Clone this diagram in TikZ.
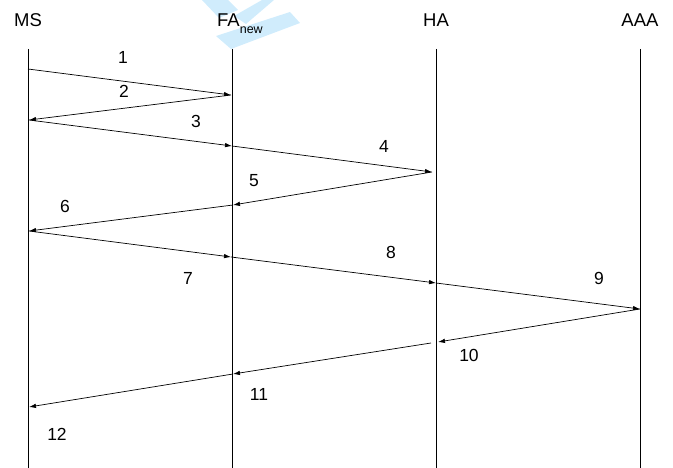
\documentclass[tikz,border=0pt]{standalone}
\usepackage{fontspec}
\setmainfont{Liberation Sans}
\usetikzlibrary{arrows.meta}
\definecolor{wmblue}{RGB}{208,236,252}
\tikzset{
  lbl/.style={font=\fontsize{17.5}{20}\selectfont, inner sep=0pt},
  hdr/.style={font=\fontsize{18.5}{21}\selectfont, inner sep=0pt},
  life/.style={line width=0.8pt},
  msg/.style={->, line width=0.7pt}
}
\begin{document}
\begin{tikzpicture}[x=1pt, y=-1pt, >={Latex[length=7pt,width=4.5pt]}]
\useasboundingbox (0,0) rectangle (673,468);
% watermark
\fill[wmblue] (202,0) -- (228,0) -- (238,10) -- (219,18) -- cycle;
\fill[wmblue] (262,0) -- (274,0) -- (246,24) -- (234,16) -- cycle;
\fill[wmblue] (290,12) -- (300,23) -- (231,49) -- (216,36) -- cycle;
% Entidades
\node[hdr] (ms) at (28,20) {MS};
\node[hdr, anchor=base west] (fa) at (217,26.5) {FA\raisebox{-0.38em}{\fontsize{12.5}{13}\selectfont new}};
\node[hdr] (ha) at (436,20) {HA};
\node[hdr] (aaa) at (640,20) {AAA};
% Linhas de vida
\coordinate (ms0) at (28,49);   \coordinate (msE) at (28,468);
\coordinate (fa0) at (232,49);  \coordinate (faE) at (232,468);
\coordinate (ha0) at (436,49);  \coordinate (haE) at (436,468);
\coordinate (aaa0) at (640,49); \coordinate (aaaE) at (640,468);
\draw[life] (ms0) -- (msE);
\draw[life] (fa0) -- (faE);
\draw[life] (ha0) -- (haE);
\draw[life] (aaa0) -- (aaaE);
% Pontos das mensagens
\coordinate (ms1) at (28,69);   \coordinate (fa1) at (231,95);
\coordinate (ms2) at (29,120);  \coordinate (fa3) at (232,146);
\coordinate (ha4) at (432,172); \coordinate (fa5) at (233,205);
\coordinate (ms6) at (29,231);  \coordinate (fa7) at (231,257);
\coordinate (ha8) at (436,283); \coordinate (aaa9) at (640,309);
\coordinate (ha10) at (438,342); \coordinate (ha11) at (431,343);
\coordinate (fa11) at (233,374); \coordinate (ms12) at (29,407);
% Mensagens
\draw[msg] (ms1) -- (fa1);
\draw[msg] (fa1) -- (ms2);
\draw[msg] (ms2) -- (fa3);
\draw[msg] (fa3) -- (ha4);
\draw[msg] (ha4) -- (fa5);
\draw[msg] (fa5) -- (ms6);
\draw[msg] (ms6) -- (fa7);
\draw[msg] (fa7) -- (ha8);
\draw[msg] (ha8) -- (aaa9);
\draw[msg] (aaa9) -- (ha10);
\draw[msg] (ha11) -- (fa11);
\draw[msg] (fa11) -- (ms12);
% Numeros
\node[lbl] (n1) at (123,57) {1};
\node[lbl] (n2) at (124,91) {2};
\node[lbl] (n3) at (196,121) {3};
\node[lbl] (n4) at (384,146) {4};
\node[lbl] (n5) at (254,181) {5};
\node[lbl] (n6) at (65,206) {6};
\node[lbl] (n7) at (188,278) {7};
\node[lbl] (n8) at (391,252) {8};
\node[lbl] (n9) at (599,278) {9};
\node[lbl] (n10) at (469,355) {10};
\node[lbl] (n11) at (259,394) {11};
\node[lbl] (n12) at (57,434) {12};
\end{tikzpicture}
\end{document}
